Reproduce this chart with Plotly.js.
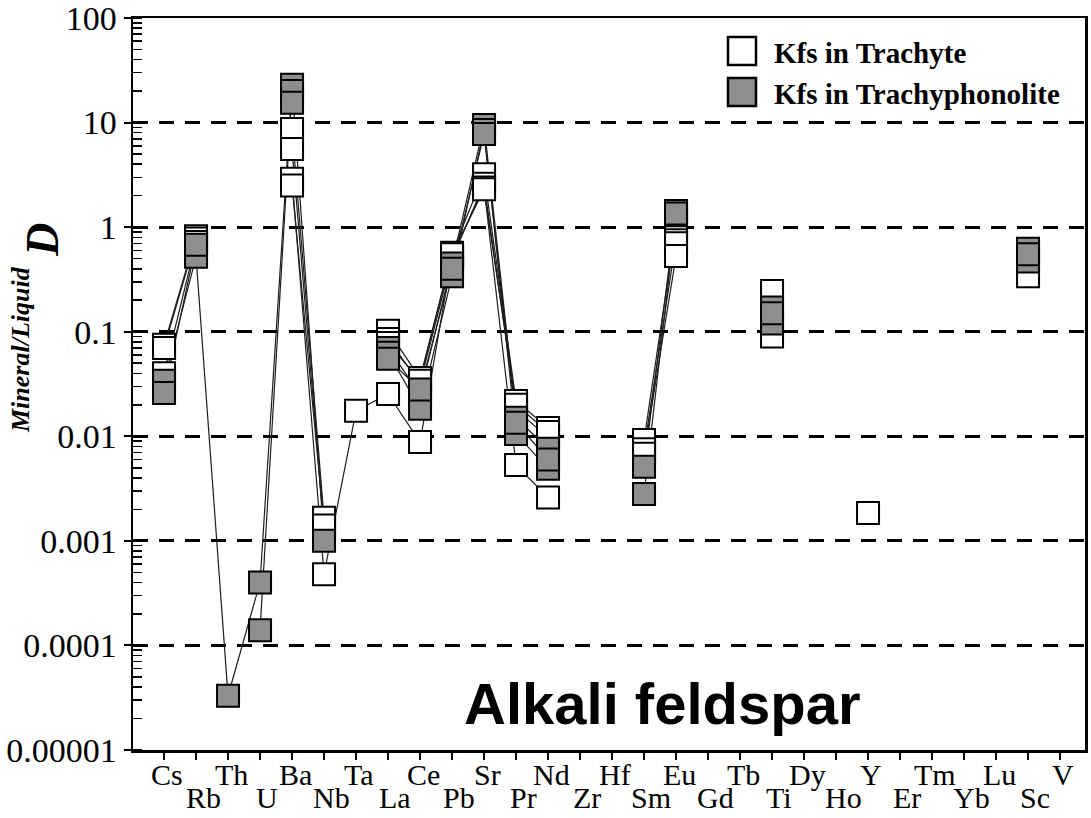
<!DOCTYPE html>
<html>
<head>
<meta charset="utf-8">
<script src="https://cdn.plot.ly/plotly-3.0.1.min.js"></script>
<style>
  html, body { margin: 0; padding: 0; background: #ffffff; }
  #chart { width: 1091px; height: 818px; }
</style>
</head>
<body>
<div id="chart"></div>
<script>
// Element order along the x axis
const elements = ['Cs','Rb','Th','U','Ba','Nb','Ta','La','Ce','Pb','Sr','Pr','Nd','Zr','Hf',
                  'Sm','Eu','Gd','Tb','Ti','Dy','Ho','Y','Er','Tm','Yb','Lu','Sc','V'];

// Mineral/liquid partition coefficients, K-feldspar in trachyte (one array per sample)
const trachyte1 = [0.075, 0.82, null, null, 8.7, 0.00166, null, 0.102, 0.036, 0.57, 3.2, 0.0218, 0.012, null, null,
                   0.0092, 1.05, null, null, 0.245, null, null, 0.00185, null, null, null, null, 0.34, null];
const trachyte2 = [0.07, 0.78, null, null, 5.6, 0.0013, null, 0.085, 0.032, 0.5, 2.6, 0.018, 0.0097, null, null,
                   0.0075, 0.75, null, null, 0.09, null, null, null, null, null, null, null, null, null];
const trachyte3 = [0.04, 0.72, null, null, 2.9, 0.00048, 0.0175, 0.0254, 0.0088, 0.53, 2.4, 0.0053, 0.0026, null, null,
                   null, 0.70, null, null, null, null, null, null, null, null, null, null, null, null];
const trachyte4 = [null, null, null, null, 2.5, 0.0014, null, 0.078, 0.034, 0.55, 2.3, 0.02, 0.011, null, null,
                   0.0068, 0.53, null, null, null, null, null, null, null, null, null, null, null, null];

// K-feldspar in trachyphonolite
const trachyphonolite1 = [0.034, 0.52, 0.000033, 0.0004, 23, 0.001, null, 0.07, 0.025, 0.45, 9.5, 0.015, 0.0076, null, null,
                          0.0051, 1.43, null, null, 0.17, null, null, null, null, null, null, null, 0.62, null];
const trachyphonolite2 = [0.026, 0.68, null, 0.00014, 20, null, null, 0.063, 0.0183, 0.34, 8.5, 0.0105, 0.0049, null, null,
                          0.0028, 1.3, null, null, 0.12, null, null, null, null, null, null, null, 0.47, null];
const trachyphonolite3 = [null, null, null, null, 15.5, null, null, 0.055, 0.028, 0.40, 7.8, 0.0135, 0.006, null, null,
                          null, 1.35, null, null, 0.15, null, null, null, null, null, null, null, 0.55, null];

// Y-axis decades and their labels
const decadeValues = [0.00001, 0.0001, 0.001, 0.01, 0.1, 1, 10, 100];
const decadeLabels = ['0.00001', '0.0001', '0.001', '0.01', '0.1', '1', '10', '100'];

const groups = [
  { name: 'Kfs in Trachyte', fill: '#ffffff', samples: [trachyte1, trachyte2, trachyte3, trachyte4] },
  { name: 'Kfs in Trachyphonolite', fill: '#8e8e8e', samples: [trachyphonolite1, trachyphonolite2, trachyphonolite3] }
];

const serif = 'Liberation Serif, Times New Roman, serif';
const traces = [];

// connecting lines first, so every marker sits above every line
groups.forEach(g => g.samples.forEach(s => {
  traces.push({
    x: elements, y: s, type: 'scatter', mode: 'lines', connectgaps: false,
    line: { color: '#1e1e1e', width: 1.2 }, showlegend: false, hoverinfo: 'skip'
  });
}));
groups.forEach(g => g.samples.forEach(s => {
  traces.push({
    x: elements, y: s, type: 'scatter', mode: 'markers', name: g.name,
    marker: { symbol: 'square', size: 22, color: g.fill, line: { color: '#000000', width: 2 } },
    showlegend: false
  });
}));

// px -> paper helpers for the plot box (l=133, t=18, w=952, h=732)
const px = v => (v - 133) / 952;
const py = v => (750 - v) / 732;

const annotations = [];
elements.forEach((el, i) => {
  const lower = i % 2 === 1;
  annotations.push({
    x: el, xref: 'x', y: 0, yref: 'paper', text: el, showarrow: false,
    xanchor: 'center', yanchor: 'middle',
    xshift: lower ? 7 : 3, yshift: lower ? -47 : -24,
    font: { family: serif, size: 30, color: '#000' }
  });
});

// y-axis title: superscript qualifier + D
annotations.push({
  x: px(42), y: py(240), xref: 'paper', yref: 'paper', showarrow: false,
  text: '<b><i>D</i></b>', textangle: -90, xanchor: 'center', yanchor: 'middle',
  font: { family: serif, size: 46, color: '#000' }
});
annotations.push({
  x: px(21), y: py(350), xref: 'paper', yref: 'paper', showarrow: false,
  text: '<b><i>Mineral/Liquid</i></b>', textangle: -90, xanchor: 'center', yanchor: 'middle',
  font: { family: serif, size: 26, color: '#000' }
});

// mineral name inside the plot
annotations.push({
  x: px(662), y: py(703), xref: 'paper', yref: 'paper', showarrow: false,
  text: '<b>Alkali feldspar</b>', xanchor: 'center', yanchor: 'middle',
  font: { family: 'Liberation Sans, Arial, sans-serif', size: 58, color: '#000' }
});

// legend
const shapes = [];
groups.forEach((g, k) => {
  const cy = k === 0 ? 51 : 92;
  shapes.push({
    type: 'rect', xref: 'paper', yref: 'paper',
    x0: px(728), x1: px(756), y0: py(cy + 14), y1: py(cy - 14),
    fillcolor: g.fill, line: { color: '#000', width: 2.5 }
  });
  annotations.push({
    x: px(772), y: py(cy + 2), xref: 'paper', yref: 'paper', showarrow: false,
    text: '<b>' + g.name + '</b>', xanchor: 'left', yanchor: 'middle',
    font: { family: serif, size: 29, color: '#000' }
  });
});

const layout = {
  width: 1091, height: 818,
  margin: { l: 133, r: 6, t: 18, b: 68, pad: 0 },
  paper_bgcolor: '#ffffff', plot_bgcolor: '#ffffff',
  showlegend: false,
  xaxis: {
    type: 'category', range: [-0.97, 28.78],
    showline: true, linecolor: '#000', linewidth: 2.5, mirror: true,
    ticks: 'outside', ticklen: 7, tickwidth: 2, tickcolor: '#000',
    showticklabels: false, showgrid: false, zeroline: false, fixedrange: true
  },
  yaxis: {
    type: 'log', range: [-5.0003, 2.0003],
    tickmode: 'array', tickvals: decadeValues, ticktext: decadeLabels,
    tickfont: { family: serif, size: 34, color: '#000' },
    ticklabeloverflow: 'allow',
    showline: true, linecolor: '#000', linewidth: 2.5, mirror: true,
    ticks: 'outside', ticklen: 7, tickwidth: 2, tickcolor: '#000',
    showgrid: true, gridcolor: '#000', gridwidth: 3, griddash: '15px,11px',
    minor: { ticks: 'inside', ticklen: 9, tickwidth: 1.5, tickcolor: '#000', dtick: 'D1', showgrid: false },
    zeroline: false, fixedrange: true
  },
  annotations: annotations,
  shapes: shapes
};

Plotly.newPlot('chart', traces, layout, { displayModeBar: false, staticPlot: true });
</script>
</body>
</html>
